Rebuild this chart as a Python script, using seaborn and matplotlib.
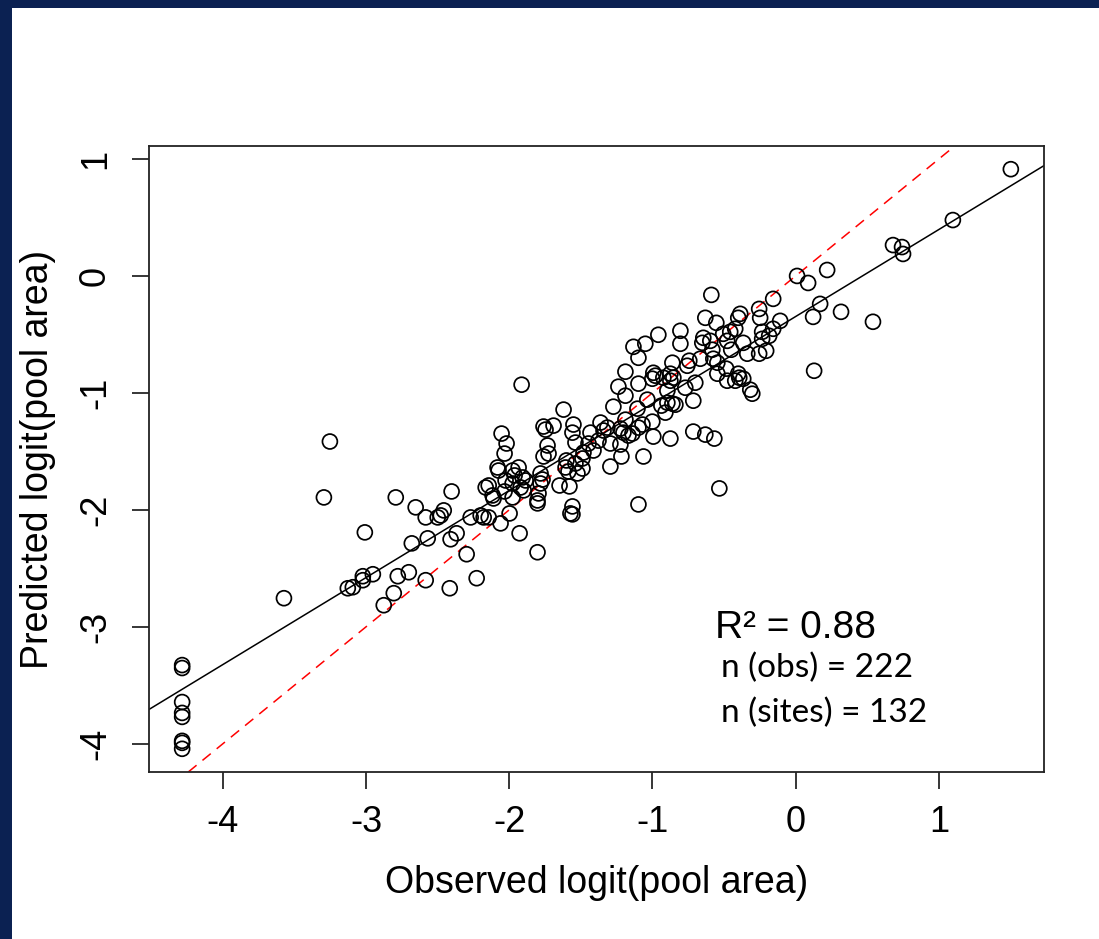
import matplotlib
matplotlib.use("Agg")
import matplotlib.pyplot as plt
import seaborn as sns
import pandas as pd
from matplotlib.patches import Rectangle

# ---- data ----
observed = [
    # cluster at minimum observed value
    -4.285, -4.285, -4.285, -4.285, -4.285, -4.285, -4.285, -4.285,
    # low range
    -3.253, -3.295, -3.574, -3.009, -2.793, -2.654, -2.584, -2.500, -2.681, -2.570,
    -3.128, -3.093, -3.023, -3.023, -2.953, -2.779, -2.702, -2.584, -2.807, -2.877, -2.416,
    # middle-left
    -1.914, -1.621, -2.054, -2.019, -2.033, -1.761, -1.747, -1.691, -1.552, -1.559,
    -1.433, -1.733, -1.761, -1.726, -1.601, -1.607, -1.538, -1.447, -1.412, -1.482,
    -1.489, -1.377, -1.538, -1.524, -1.489, -1.587, -1.649, -1.580, -1.782, -1.768,
    -1.782, -1.796, -1.803, -1.803, -1.559, -1.573, -1.559, -1.098, -1.935, -1.977,
    -1.963, -1.907, -1.886, -2.082, -2.075, -2.026, -1.977, -1.921, -1.900, -2.033,
    -1.977, -2.165, -2.144, -2.117, -2.110, -2.403, -2.458, -2.479, -2.270, -2.200,
    -2.179, -2.144, -1.998, -2.061, -2.368, -2.410, -2.298, -1.928, -1.803, -2.228,
    # upper right
    1.503, 1.098, 0.680, 0.743, 0.750, 0.010, 0.087, 0.220, -0.589, -0.157,
    0.171, 0.317, 0.540, 0.122, 0.129, -0.255, -0.248, -0.387, -0.401, -0.631,
    -0.554, -0.108, -0.234, -0.157, -0.185, -0.234, -0.366, -0.206, -0.255, -0.338,
    -0.450, -0.422, -0.457, -0.506, -0.478, -0.582, -0.575, -0.547, -0.666, -0.757,
    -0.743, -0.645, -0.652, -0.596, -0.805, -0.805, -0.485, -0.547, -0.478, -0.422,
    -0.394, -0.366, -0.401, -0.701, -0.771, -0.317,
    # middle
    -0.959, -1.050, -1.133, -1.098, -0.861, -1.189, -0.994, -0.980, -1.001, -0.924,
    -0.875, -0.854, -0.875, -1.238, -1.189, -1.098, -1.036, -0.896, -0.896, -0.861,
    -0.840, -0.715, -0.938, -0.910, -1.105, -1.273, -1.363, -1.315, -1.342, -1.189,
    -1.224, -1.203, -1.168, -1.140, -1.098, -1.070, -1.001, -0.994, -0.875, -0.715,
    -0.631, -0.568, -1.294, -1.224, -1.217, -1.063, -1.294, -0.303, -0.533,
]
predicted = [
    -3.328, -3.353, -3.644, -3.737, -3.771, -3.976, -3.993, -4.044,
    -1.416, -1.894, -2.756, -2.193, -1.894, -1.979, -2.065, -2.065, -2.287, -2.244,
    -2.671, -2.662, -2.568, -2.602, -2.551, -2.568, -2.534, -2.602, -2.713, -2.816, -2.671,
    -0.930, -1.143, -1.348, -1.433, -1.519, -1.288, -1.314, -1.280, -1.271, -1.340,
    -1.340, -1.450, -1.544, -1.519, -1.578, -1.638, -1.425, -1.433, -1.493, -1.510,
    -1.561, -1.408, -1.604, -1.689, -1.647, -1.672, -1.792, -1.800, -1.689, -1.741,
    -1.775, -1.860, -1.920, -1.945, -1.971, -2.031, -2.039, -1.954, -1.638, -1.664,
    -1.706, -1.723, -1.749, -1.638, -1.664, -1.749, -1.775, -1.809, -1.834, -1.843,
    -1.894, -1.809, -1.792, -1.877, -1.903, -1.843, -2.005, -2.048, -2.065, -2.048,
    -2.065, -2.065, -2.031, -2.116, -2.201, -2.252, -2.380, -2.201, -2.363, -2.585,
    0.913, 0.478, 0.264, 0.247, 0.188, 0.000, -0.060, 0.051, -0.162, -0.196,
    -0.239, -0.307, -0.392, -0.350, -0.811, -0.282, -0.358, -0.324, -0.358, -0.358,
    -0.401, -0.384, -0.478, -0.452, -0.512, -0.538, -0.572, -0.640, -0.665, -0.665,
    -0.631, -0.452, -0.478, -0.495, -0.555, -0.631, -0.708, -0.742, -0.708, -0.768,
    -0.725, -0.529, -0.572, -0.555, -0.469, -0.580, -0.793, -0.836, -0.896, -0.896,
    -0.870, -0.879, -0.836, -0.913, -0.956, -0.973,
    -0.503, -0.580, -0.606, -0.700, -0.742, -0.819, -0.828, -0.853, -0.879, -0.870,
    -0.836, -0.870, -0.896, -0.947, -1.024, -0.921, -1.058, -0.981, -1.084, -1.092,
    -1.101, -1.067, -1.109, -1.169, -1.135, -1.118, -1.254, -1.297, -1.322, -1.229,
    -1.305, -1.340, -1.365, -1.348, -1.297, -1.271, -1.246, -1.374, -1.391, -1.331,
    -1.357, -1.391, -1.433, -1.442, -1.544, -1.544, -1.630, -1.007, -1.817,
]

fit_intercept = -0.347
fit_slope = 0.744

x_ticks = [-4, -3, -2, -1, 0, 1]
y_ticks = [-4, -3, -2, -1, 0, 1]
x_label = "Observed logit(pool area)"
y_label = "Predicted logit(pool area)"
annot_r2 = "R² = 0.88"
annot_obs = "n (obs) = 222"
annot_sites = "n (sites) = 132"

df = pd.DataFrame({"observed": observed, "predicted": predicted})

# ---- figure ----
sns.set_style("white")
plt.rcParams["font.family"] = ["Liberation Sans", "DejaVu Sans"]
plt.rcParams["text.color"] = "black"
plt.rcParams["axes.labelcolor"] = "black"

fig = plt.figure(figsize=(10.99, 9.39), dpi=100, facecolor="white")
navy = "#0b2152"
fig.patches.append(Rectangle((0, 1 - 8 / 939), 1, 8 / 939, transform=fig.transFigure,
                             facecolor=navy, edgecolor="none", zorder=0))
fig.patches.append(Rectangle((0, 0), 12 / 1099, 1, transform=fig.transFigure,
                             facecolor=navy, edgecolor="none", zorder=0))

ax = fig.add_axes([149 / 1099, 1 - 772 / 939, (1044 - 149) / 1099, (772 - 146) / 939])

sns.scatterplot(data=df, x="observed", y="predicted", ax=ax, marker="o", s=115,
                facecolor="none", edgecolor="black", linewidth=1.25, zorder=3)

ax.axline((0, 0), slope=1, color="red", lw=1.1, linestyle=(0, (7, 5)), zorder=2)
ax.axline((0, fit_intercept), slope=fit_slope, color="black", lw=1.1, zorder=2)

xmin, xmax = min(observed), max(observed)
ymin, ymax = min(predicted), max(predicted)
ax.set_xlim(xmin - 0.04 * (xmax - xmin), xmax + 0.04 * (xmax - xmin))
ax.set_ylim(ymin - 0.04 * (ymax - ymin), ymax + 0.04 * (ymax - ymin))

ax.set_xticks(x_ticks)
ax.set_yticks(y_ticks)
ax.set_xticklabels([str(t) for t in x_ticks])
ax.set_yticklabels([str(t) for t in y_ticks], rotation=90, va="center")
ax.tick_params(axis="both", direction="out", length=12, width=1.1, color="black",
               labelsize=26, labelcolor="black", bottom=True, left=True)
ax.tick_params(axis="x", pad=12)
ax.tick_params(axis="y", pad=14)
for sp in ax.spines.values():
    sp.set_visible(True)
    sp.set_color("#222222")
    sp.set_linewidth(1.3)

ax.set_xlabel(x_label, fontsize=27, color="black")
ax.set_ylabel(y_label, fontsize=27, color="black")
ax.xaxis.set_label_coords(0.5, (772 - 883) / 626, transform=ax.transAxes)
ax.yaxis.set_label_coords((38 - 149) / 895, 0.5, transform=ax.transAxes)
ax.xaxis.label.set_va("center")
ax.yaxis.label.set_va("center")

ax.text(-0.56, -3.01, annot_r2, fontsize=28, va="center", ha="left")
ax.text(-0.52, -3.35, annot_obs, fontsize=24, va="center", ha="left",
        family=["Lato", "DejaVu Sans"])
ax.text(-0.52, -3.74, annot_sites, fontsize=24, va="center", ha="left",
        family=["Lato", "DejaVu Sans"])

fig.savefig("out.png", dpi=100, facecolor=fig.get_facecolor())
